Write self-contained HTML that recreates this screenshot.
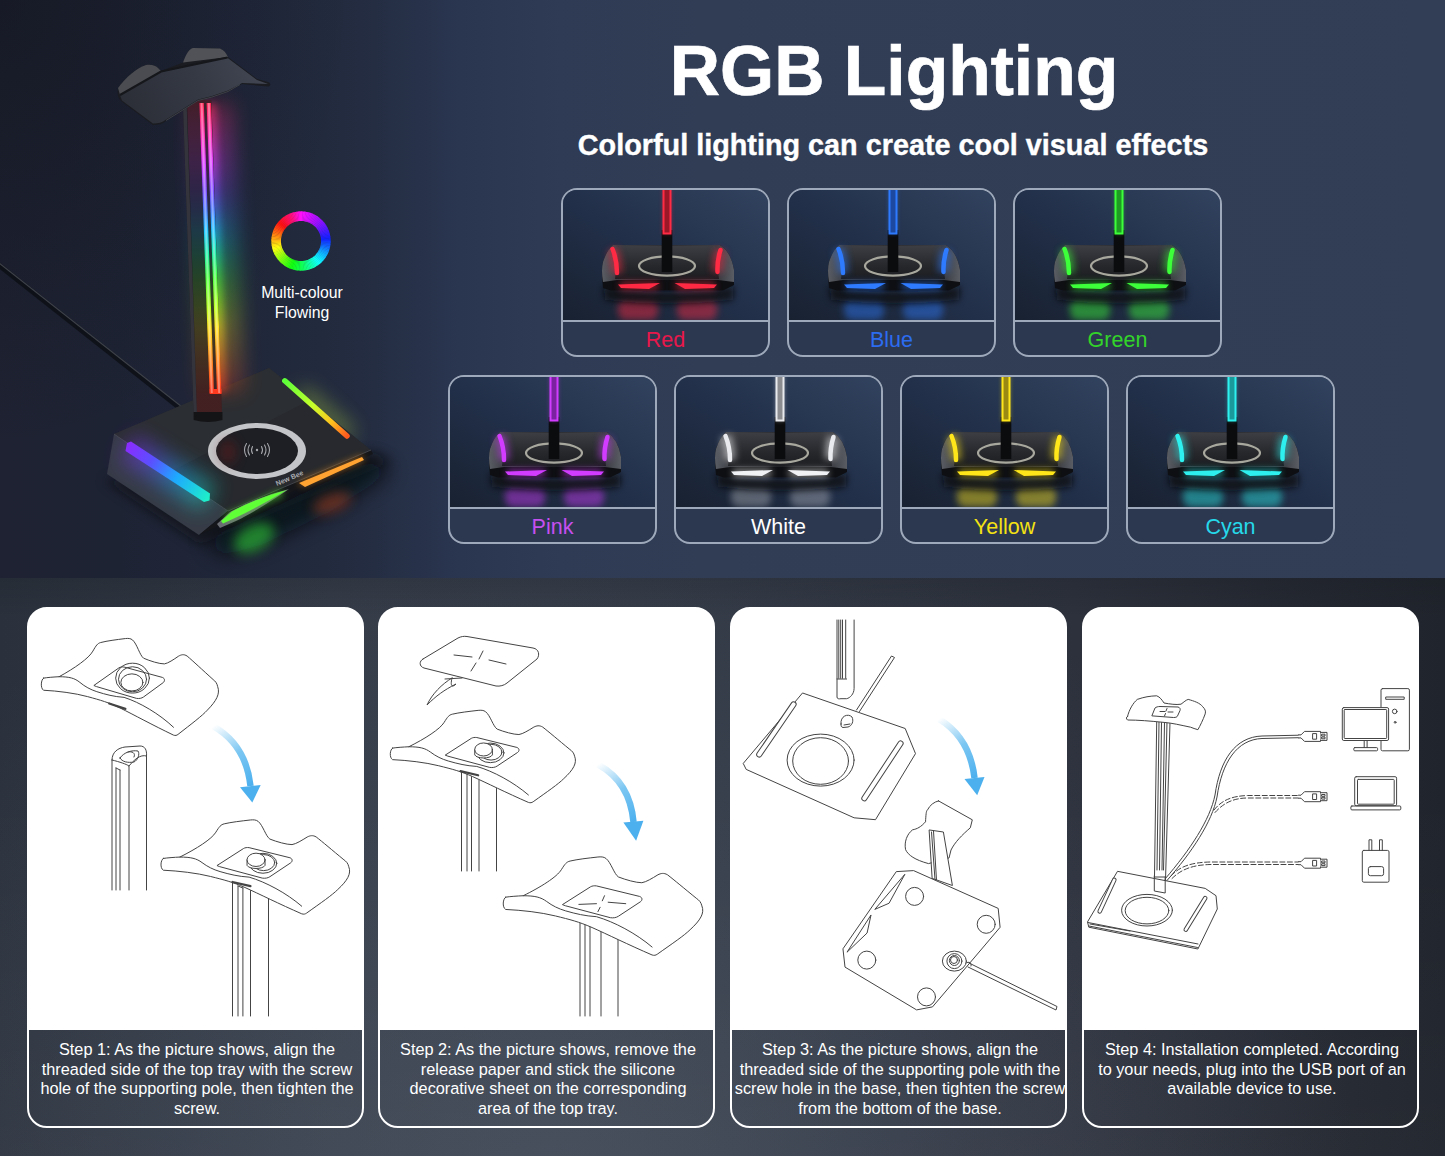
<!DOCTYPE html>
<html><head><meta charset="utf-8"><style>
*{margin:0;padding:0;box-sizing:border-box}
html,body{width:1445px;height:1156px;overflow:hidden;background:#2a303b}
body{position:relative;font-family:"Liberation Sans",sans-serif}
.abs{position:absolute}
#top{left:0;top:0;width:1445px;height:578px;overflow:hidden;
background:radial-gradient(ellipse 350px 450px at 0 0,rgba(12,14,20,0.4),rgba(12,14,20,0) 100%),linear-gradient(90deg,#1e2232 0px,#1e2334 120px,#20273a 250px,#232c40 360px,#2a3550 460px,#2f3b54 560px,#303d55 700px,#313e55 100%)}
#bot{left:0;top:578px;width:1445px;height:578px;overflow:hidden;
background:linear-gradient(180deg,rgba(0,0,0,0.1) 0px,rgba(0,0,0,0) 40px,rgba(255,255,255,0) 200px,rgba(255,255,255,0.025) 100%),radial-gradient(ellipse 800px 700px at 560px 610px,rgba(110,120,140,0.28),rgba(110,120,140,0) 100%),linear-gradient(90deg,#2a313c 0px,#333a46 330px,#343b47 550px,#323945 723px,#2c313c 1075px,#20242c 1445px)}
.title{left:0;width:1445px;text-align:center;color:#fff;font-weight:bold;white-space:nowrap}
.ccard{position:absolute;width:209px;height:169px;border:2px solid #9ea9bb;border-radius:16px;overflow:hidden;background:#2c3850}
.ccard svg{position:absolute;left:0;top:0}
.ccard .lab{position:absolute;left:0;width:100%;text-align:center;font-size:21.5px;top:130px;height:35px;line-height:37px;border-top:2px solid #9ea9bb}
.bcard{position:absolute;top:28.5px;width:337px;height:521px;border:2.5px solid #fff;border-radius:20px;overflow:hidden;background:linear-gradient(180deg,#fff 0px,#fff 422.5px,rgba(255,255,255,0) 422.5px) border-box}
.bcard .cap{position:absolute;left:-1px;top:420px;width:338px;height:96px;color:#fff;font-size:16.3px;line-height:19.5px;text-align:center;padding-top:11.5px}
.bcard svg{position:absolute;left:0;top:0}
</style></head><body>
<svg width="0" height="0" style="position:absolute">
<defs>
<filter id="b1" filterUnits="userSpaceOnUse" x="-300" y="-300" width="2200" height="2200"><feGaussianBlur stdDeviation="1"/></filter>
<filter id="b2" filterUnits="userSpaceOnUse" x="-300" y="-300" width="2200" height="2200"><feGaussianBlur stdDeviation="2"/></filter>
<filter id="b3" filterUnits="userSpaceOnUse" x="-300" y="-300" width="2200" height="2200"><feGaussianBlur stdDeviation="3.5"/></filter>
<filter id="b6" filterUnits="userSpaceOnUse" x="-300" y="-300" width="2200" height="2200"><feGaussianBlur stdDeviation="6"/></filter>
<filter id="b10" filterUnits="userSpaceOnUse" x="-300" y="-300" width="2200" height="2200"><feGaussianBlur stdDeviation="10"/></filter>
<filter id="b16" filterUnits="userSpaceOnUse" x="-300" y="-300" width="2200" height="2200"><feGaussianBlur stdDeviation="16"/></filter>
<linearGradient id="cardbg" x1="0" y1="1" x2="1" y2="0">
<stop offset="0" stop-color="#182130"/><stop offset="0.5" stop-color="#22304a"/><stop offset="1" stop-color="#32435f"/></linearGradient>
<linearGradient id="basetop" x1="0" y1="0" x2="0" y2="1">
<stop offset="0" stop-color="#3c3e44"/><stop offset="0.6" stop-color="#26282c"/><stop offset="1" stop-color="#1c1d21"/></linearGradient>
<linearGradient id="basewing" x1="0" y1="0" x2="1" y2="0">
<stop offset="0" stop-color="#5a5d64"/><stop offset="0.12" stop-color="#3a3c42"/><stop offset="0.5" stop-color="#1e1f23"/><stop offset="0.88" stop-color="#3a3c42"/><stop offset="1" stop-color="#5a5d64"/></linearGradient>
<linearGradient id="rainbowV" x1="0" y1="103" x2="0" y2="395" gradientUnits="userSpaceOnUse">
<stop offset="0" stop-color="#ff2a55"/><stop offset="0.1" stop-color="#ff35b0"/><stop offset="0.2" stop-color="#e040ff"/><stop offset="0.3" stop-color="#8050ff"/><stop offset="0.37" stop-color="#4a80ff"/><stop offset="0.44" stop-color="#20c8ff"/><stop offset="0.52" stop-color="#20f0a0"/><stop offset="0.6" stop-color="#50ff40"/><stop offset="0.7" stop-color="#b8ff20"/><stop offset="0.77" stop-color="#ffe020"/><stop offset="0.87" stop-color="#ff9020"/><stop offset="1" stop-color="#ff3020"/></linearGradient>
<linearGradient id="stripL" x1="127" y1="446" x2="209" y2="498" gradientUnits="userSpaceOnUse">
<stop offset="0" stop-color="#8a2cff"/><stop offset="0.3" stop-color="#5a50ff"/><stop offset="0.6" stop-color="#1ea8ff"/><stop offset="1" stop-color="#1ef0c8"/></linearGradient>
<linearGradient id="stripR" x1="285" y1="381" x2="347" y2="436" gradientUnits="userSpaceOnUse">
<stop offset="0" stop-color="#5cff3a"/><stop offset="0.45" stop-color="#c8ff2a"/><stop offset="0.75" stop-color="#ffc21e"/><stop offset="1" stop-color="#ff5a1e"/></linearGradient>
</defs></svg>

<div id="top" class="abs">
<div class="abs title" style="top:31px;left:894px;width:0;font-size:69.6px;line-height:80px"><span style="position:absolute;transform:translateX(-50%);-webkit-text-stroke:0.7px #fff">RGB Lighting</span></div>
<div class="abs title" style="top:128px;left:893px;width:0;font-size:28.8px;line-height:34px"><span style="position:absolute;transform:translateX(-50%);-webkit-text-stroke:0.4px #fff">Colorful lighting can create cool visual effects</span></div>
<svg class="abs" style="left:0;top:0" width="460" height="578" viewBox="0 0 460 578">
<!-- cable -->
<path d="M-5 262 L190 416" stroke="#0d0f15" stroke-width="5" fill="none" opacity="0.85"/>
<path d="M-5 259.8 L190 413.3" stroke="#4d5159" stroke-width="1.1" fill="none" opacity="0.75"/>
<!-- floor shadow under base -->
<path d="M104 480 L200 545 L392 462 L374 452 Z" fill="#07080b" opacity="0.55" filter="url(#b6)"/>
<path d="M205 540 L372 460 L392 472 L330 512 L262 545 L222 556 Z" fill="#06070a" opacity="0.7" filter="url(#b10)"/>
<!-- reflection glows under base -->
<ellipse cx="0" cy="0" rx="22" ry="13" fill="#30d83a" opacity="0.55" filter="url(#b6)" transform="translate(254 538) rotate(-28)"/>
<ellipse cx="0" cy="0" rx="20" ry="9" fill="#9a3a22" opacity="0.6" filter="url(#b6)" transform="translate(332 503) rotate(-20)"/>
<!-- strip glows (behind base edges) -->
<path d="M300 392 L350 436" stroke="#d8ff40" stroke-width="16" opacity="0.35" filter="url(#b10)"/>
<!-- base faces -->
<path d="M269 368 L114 434 L228 511 L371 450 Z" fill="#27292e"/>
<path d="M269 368 L114 434 L170 472 L310 400 Z" fill="#2e3035" opacity="0.7"/>
<path d="M114 434 L107 474 L199 535 L228 511 Z" fill="#363b46"/>
<path d="M228 511 L199 535 L373 454 L371 450 Z" fill="#15161a"/>
<path d="M114 434 L228 511 L371 450" stroke="#4a4d55" stroke-width="1" fill="none" opacity="0.8"/>
<!-- left strip glow -->
<path d="M128 447 L209 498" stroke="url(#stripL)" stroke-width="30" opacity="0.45" filter="url(#b10)"/>
<!-- strips -->
<path d="M127 443 L131 441.5 L210 493.5 L209.5 500.5 L204 502 L125.5 451 Z" fill="url(#stripL)"/>
<path d="M284.8 380.8 L347 436" stroke="url(#stripR)" stroke-width="5.5" stroke-linecap="round"/>
<path d="M217 524 L230 512 C250 501 270 494 289 489 C272 501 252 513 236 521 L220 528 Z" fill="#6a6d74"/>
<path d="M221 521 L232 511.5 C250 501.5 270 494.5 287 490 C270 500 252 510 236 517.5 L223 523.5 Z" fill="#62ff3c"/>
<path d="M226 518 L282 493" stroke="#5cff2c" stroke-width="7" opacity="0.5" filter="url(#b3)"/>
<path d="M299 483 L362 457 L364 460 L305 487 Z" fill="#ffa63a"/>
<path d="M300 484 L363 458" stroke="#ff9a1e" stroke-width="6" opacity="0.5" filter="url(#b3)"/>
<!-- ring -->
<ellipse cx="257" cy="451" rx="49" ry="28" fill="#c4c5c8"/>
<ellipse cx="257" cy="451" rx="41" ry="23" fill="#1e1f24"/>
<ellipse cx="228" cy="452" rx="8" ry="12" fill="#6a1a1a" opacity="0.5" filter="url(#b6)"/>
<g fill="none" stroke="#a4a6ac" stroke-width="1.1" stroke-linecap="round">
<path d="M252.5 446.5 Q250.5 450 252.5 453.5"/><path d="M249.5 445 Q246.5 450 249.5 455"/><path d="M246.5 443.5 Q242.5 450 246.5 456.5"/>
<path d="M261.5 446.5 Q263.5 450 261.5 453.5"/><path d="M264.5 445 Q267.5 450 264.5 455"/><path d="M267.5 443.5 Q271.5 450 267.5 456.5"/>
</g><circle cx="257" cy="450" r="1.2" fill="#a4a6ac"/>
<text x="0" y="0" font-size="7" fill="#a9abb0" font-weight="bold" transform="translate(277 486) rotate(-23)" font-family="Liberation Sans">New Bee</text>
<!-- pole glow -->
<path d="M212 104 L223 392" stroke="url(#rainbowV)" stroke-width="40" opacity="0.3" filter="url(#b10)"/>
<path d="M207 104 L217.5 392" stroke="url(#rainbowV)" stroke-width="18" opacity="0.5" filter="url(#b3)"/>
<!-- pole -->
<path d="M182.8 100 L211.4 100 L222 414 L193.6 414 Z" fill="#1c1c21"/>
<path d="M182.8 100 L186.5 100 L196.9 414 L193.6 414 Z" fill="#3a3b43" opacity="0.8"/>
<path d="M187 100 L211.4 100 L222 414 L197 414 Z" fill="url(#rainbowV)" opacity="0.17"/>
<path d="M193.6 412 L222.5 412 L222.5 420 Q208 424 193.6 420 Z" fill="#141417"/>
<!-- pole strips -->
<path d="M199.4 103 L203.8 103 L214 393 L209.6 393 Z" fill="url(#rainbowV)"/>
<path d="M206.6 103 L211 103 L221.4 393 L217 393 Z" fill="url(#rainbowV)"/>
<path d="M209.6 389 L221.4 389 L221.6 394 L209.6 394 Z" fill="#ff3a1e"/>
<path d="M200.6 103 L202.6 103 L212.8 393 L210.8 393 Z" fill="#ffffff" opacity="0.35"/>
<path d="M207.8 103 L209.8 103 L220.2 393 L218.2 393 Z" fill="#ffffff" opacity="0.35"/>
<!-- tray -->
<path d="M118 88 C125 78 138 67 146 65 C152 64 156 66 158 68 L161 71 L183 62.5 C186 54 189 49 193 48 L220 48.5 C224 50 226 53 228 57 L257 79 L268 82 C271 83 271 86 268 86.5 L242 84 L228 92 L212 97.5 L198 101 L166 121 C162 124 158 125 153 125 L121 101 C118 98 117 94 118 88 Z" fill="#1b1c21"/>
<linearGradient id="trayface" x1="120" y1="120" x2="250" y2="60" gradientUnits="userSpaceOnUse"><stop offset="0" stop-color="#2a2d35"/><stop offset="0.6" stop-color="#353944"/><stop offset="1" stop-color="#404551"/></linearGradient>
<path d="M120 95 L161 72 L227 57.5 L257 80 L268 84 L242 83 L228 90.5 L212 96 L198 99.5 L166 119.5 C162 122.5 158 123.5 153 123.5 L122 100.5 Z" fill="url(#trayface)"/>
<path d="M118 88 C125 78 138 67 146 65 C152 64 156 66 158 68 L161 71 L120 95 Z" fill="#4a4c52"/>
<path d="M183 62.5 C186 54 189 49 193 48 L220 48.5 C224 50 226 53 228 57 Z" fill="#505258"/>
<path d="M120 95 L161 71.5 L227.5 57.5" stroke="#15171b" stroke-width="2.2" fill="none"/>
<path d="M240 84.5 L228 91.5 L212 97 L198 100.5 L166 120.5" stroke="#55585f" stroke-width="0.9" fill="none" opacity="0.7"/>
<!-- multicolour ring -->
<g fill="none" stroke-width="9.6"><path d="M301.00 216.15 A24.85 24.85 0 0 1 302.65 216.20" stroke="#fb10ff"/><path d="M302.30 216.18 A24.85 24.85 0 0 1 303.94 216.32" stroke="#f410ff"/><path d="M303.60 216.29 A24.85 24.85 0 0 1 305.23 216.51" stroke="#ed10ff"/><path d="M304.89 216.46 A24.85 24.85 0 0 1 306.51 216.77" stroke="#e610ff"/><path d="M306.17 216.69 A24.85 24.85 0 0 1 307.77 217.09" stroke="#df10ff"/><path d="M307.43 217.00 A24.85 24.85 0 0 1 309.01 217.48" stroke="#d810ff"/><path d="M308.68 217.37 A24.85 24.85 0 0 1 310.23 217.93" stroke="#d110ff"/><path d="M309.91 217.80 A24.85 24.85 0 0 1 311.42 218.44" stroke="#ca10ff"/><path d="M311.11 218.30 A24.85 24.85 0 0 1 312.59 219.02" stroke="#c210ff"/><path d="M312.28 218.86 A24.85 24.85 0 0 1 313.72 219.65" stroke="#bb10ff"/><path d="M313.43 219.48 A24.85 24.85 0 0 1 314.82 220.35" stroke="#b410ff"/><path d="M314.53 220.16 A24.85 24.85 0 0 1 315.89 221.10" stroke="#ad10ff"/><path d="M315.61 220.90 A24.85 24.85 0 0 1 316.91 221.91" stroke="#a610ff"/><path d="M316.64 221.69 A24.85 24.85 0 0 1 317.88 222.77" stroke="#9e10ff"/><path d="M317.63 222.53 A24.85 24.85 0 0 1 318.82 223.68" stroke="#9511ff"/><path d="M318.57 223.43 A24.85 24.85 0 0 1 319.70 224.63" stroke="#8b12ff"/><path d="M319.47 224.37 A24.85 24.85 0 0 1 320.53 225.63" stroke="#8213ff"/><path d="M320.31 225.36 A24.85 24.85 0 0 1 321.31 226.68" stroke="#7814ff"/><path d="M321.10 226.39 A24.85 24.85 0 0 1 322.03 227.76" stroke="#6e16ff"/><path d="M321.84 227.47 A24.85 24.85 0 0 1 322.69 228.88" stroke="#6517ff"/><path d="M322.52 228.57 A24.85 24.85 0 0 1 323.30 230.03" stroke="#5b18ff"/><path d="M323.14 229.72 A24.85 24.85 0 0 1 323.84 231.21" stroke="#5219ff"/><path d="M323.70 230.89 A24.85 24.85 0 0 1 324.32 232.42" stroke="#481aff"/><path d="M324.20 232.09 A24.85 24.85 0 0 1 324.74 233.65" stroke="#3e1bff"/><path d="M324.63 233.32 A24.85 24.85 0 0 1 325.09 234.90" stroke="#351cff"/><path d="M325.00 234.57 A24.85 24.85 0 0 1 325.38 236.17" stroke="#2b1dff"/><path d="M325.31 235.83 A24.85 24.85 0 0 1 325.60 237.46" stroke="#221eff"/><path d="M325.54 237.11 A24.85 24.85 0 0 1 325.75 238.75" stroke="#181fff"/><path d="M325.71 238.40 A24.85 24.85 0 0 1 325.83 240.05" stroke="#1022ff"/><path d="M325.82 239.70 A24.85 24.85 0 0 1 325.85 241.35" stroke="#102fff"/><path d="M325.85 241.00 A24.85 24.85 0 0 1 325.80 242.65" stroke="#103cff"/><path d="M325.82 242.30 A24.85 24.85 0 0 1 325.68 243.94" stroke="#1049ff"/><path d="M325.71 243.60 A24.85 24.85 0 0 1 325.49 245.23" stroke="#1055ff"/><path d="M325.54 244.89 A24.85 24.85 0 0 1 325.23 246.51" stroke="#1062ff"/><path d="M325.31 246.17 A24.85 24.85 0 0 1 324.91 247.77" stroke="#106fff"/><path d="M325.00 247.43 A24.85 24.85 0 0 1 324.52 249.01" stroke="#107cff"/><path d="M324.63 248.68 A24.85 24.85 0 0 1 324.07 250.23" stroke="#1089ff"/><path d="M324.20 249.91 A24.85 24.85 0 0 1 323.56 251.42" stroke="#1095ff"/><path d="M323.70 251.11 A24.85 24.85 0 0 1 322.98 252.59" stroke="#10a2ff"/><path d="M323.14 252.28 A24.85 24.85 0 0 1 322.35 253.72" stroke="#10adff"/><path d="M322.52 253.43 A24.85 24.85 0 0 1 321.65 254.82" stroke="#10b9ff"/><path d="M321.84 254.53 A24.85 24.85 0 0 1 320.90 255.89" stroke="#10c4ff"/><path d="M321.10 255.61 A24.85 24.85 0 0 1 320.09 256.91" stroke="#10d0ff"/><path d="M320.31 256.64 A24.85 24.85 0 0 1 319.23 257.88" stroke="#10dbff"/><path d="M319.47 257.63 A24.85 24.85 0 0 1 318.32 258.82" stroke="#10e6ff"/><path d="M318.57 258.57 A24.85 24.85 0 0 1 317.37 259.70" stroke="#10f2ff"/><path d="M317.63 259.47 A24.85 24.85 0 0 1 316.37 260.53" stroke="#10fdff"/><path d="M316.64 260.31 A24.85 24.85 0 0 1 315.32 261.31" stroke="#10fff4"/><path d="M315.61 261.10 A24.85 24.85 0 0 1 314.24 262.03" stroke="#10ffe6"/><path d="M314.53 261.84 A24.85 24.85 0 0 1 313.12 262.69" stroke="#10ffd8"/><path d="M313.43 262.52 A24.85 24.85 0 0 1 311.97 263.30" stroke="#10ffcb"/><path d="M312.28 263.14 A24.85 24.85 0 0 1 310.79 263.84" stroke="#10ffbd"/><path d="M311.11 263.70 A24.85 24.85 0 0 1 309.58 264.32" stroke="#10ffb0"/><path d="M309.91 264.20 A24.85 24.85 0 0 1 308.35 264.74" stroke="#10ffa2"/><path d="M308.68 264.63 A24.85 24.85 0 0 1 307.10 265.09" stroke="#10ff94"/><path d="M307.43 265.00 A24.85 24.85 0 0 1 305.83 265.38" stroke="#10ff87"/><path d="M306.17 265.31 A24.85 24.85 0 0 1 304.54 265.60" stroke="#10ff79"/><path d="M304.89 265.54 A24.85 24.85 0 0 1 303.25 265.75" stroke="#10ff6b"/><path d="M303.60 265.71 A24.85 24.85 0 0 1 301.95 265.83" stroke="#10ff5e"/><path d="M302.30 265.82 A24.85 24.85 0 0 1 300.65 265.85" stroke="#10ff55"/><path d="M301.00 265.85 A24.85 24.85 0 0 1 299.35 265.80" stroke="#10ff4b"/><path d="M299.70 265.82 A24.85 24.85 0 0 1 298.06 265.68" stroke="#10ff42"/><path d="M298.40 265.71 A24.85 24.85 0 0 1 296.77 265.49" stroke="#10ff38"/><path d="M297.11 265.54 A24.85 24.85 0 0 1 295.49 265.23" stroke="#10ff2e"/><path d="M295.83 265.31 A24.85 24.85 0 0 1 294.23 264.91" stroke="#10ff25"/><path d="M294.57 265.00 A24.85 24.85 0 0 1 292.99 264.52" stroke="#10ff1b"/><path d="M293.32 264.63 A24.85 24.85 0 0 1 291.77 264.07" stroke="#10ff12"/><path d="M292.09 264.20 A24.85 24.85 0 0 1 290.58 263.56" stroke="#1aff10"/><path d="M290.89 263.70 A24.85 24.85 0 0 1 289.41 262.98" stroke="#27ff10"/><path d="M289.72 263.14 A24.85 24.85 0 0 1 288.28 262.35" stroke="#33ff10"/><path d="M288.57 262.52 A24.85 24.85 0 0 1 287.18 261.65" stroke="#3fff10"/><path d="M287.47 261.84 A24.85 24.85 0 0 1 286.11 260.90" stroke="#4cff10"/><path d="M286.39 261.10 A24.85 24.85 0 0 1 285.09 260.09" stroke="#58ff10"/><path d="M285.36 260.31 A24.85 24.85 0 0 1 284.12 259.23" stroke="#64ff10"/><path d="M284.37 259.47 A24.85 24.85 0 0 1 283.18 258.32" stroke="#71ff10"/><path d="M283.43 258.57 A24.85 24.85 0 0 1 282.30 257.37" stroke="#7dff10"/><path d="M282.53 257.63 A24.85 24.85 0 0 1 281.47 256.37" stroke="#89ff10"/><path d="M281.69 256.64 A24.85 24.85 0 0 1 280.69 255.32" stroke="#96ff10"/><path d="M280.90 255.61 A24.85 24.85 0 0 1 279.97 254.24" stroke="#a2ff10"/><path d="M280.16 254.53 A24.85 24.85 0 0 1 279.31 253.12" stroke="#b1ff10"/><path d="M279.48 253.43 A24.85 24.85 0 0 1 278.70 251.97" stroke="#bfff10"/><path d="M278.86 252.28 A24.85 24.85 0 0 1 278.16 250.79" stroke="#cdff10"/><path d="M278.30 251.11 A24.85 24.85 0 0 1 277.68 249.58" stroke="#dbff10"/><path d="M277.80 249.91 A24.85 24.85 0 0 1 277.26 248.35" stroke="#eaff10"/><path d="M277.37 248.68 A24.85 24.85 0 0 1 276.91 247.10" stroke="#f8ff10"/><path d="M277.00 247.43 A24.85 24.85 0 0 1 276.62 245.83" stroke="#fff810"/><path d="M276.69 246.17 A24.85 24.85 0 0 1 276.40 244.54" stroke="#ffeb10"/><path d="M276.46 244.89 A24.85 24.85 0 0 1 276.25 243.25" stroke="#ffde10"/><path d="M276.29 243.60 A24.85 24.85 0 0 1 276.17 241.95" stroke="#ffd010"/><path d="M276.18 242.30 A24.85 24.85 0 0 1 276.15 240.65" stroke="#ffc310"/><path d="M276.15 241.00 A24.85 24.85 0 0 1 276.20 239.35" stroke="#ffb610"/><path d="M276.18 239.70 A24.85 24.85 0 0 1 276.32 238.06" stroke="#ffa810"/><path d="M276.29 238.40 A24.85 24.85 0 0 1 276.51 236.77" stroke="#ff9b10"/><path d="M276.46 237.11 A24.85 24.85 0 0 1 276.77 235.49" stroke="#ff8e10"/><path d="M276.69 235.83 A24.85 24.85 0 0 1 277.09 234.23" stroke="#ff8110"/><path d="M277.00 234.57 A24.85 24.85 0 0 1 277.48 232.99" stroke="#ff7410"/><path d="M277.37 233.32 A24.85 24.85 0 0 1 277.93 231.77" stroke="#ff6710"/><path d="M277.80 232.09 A24.85 24.85 0 0 1 278.44 230.58" stroke="#ff5b10"/><path d="M278.30 230.89 A24.85 24.85 0 0 1 279.02 229.41" stroke="#ff4e10"/><path d="M278.86 229.72 A24.85 24.85 0 0 1 279.65 228.28" stroke="#ff4110"/><path d="M279.48 228.57 A24.85 24.85 0 0 1 280.35 227.18" stroke="#ff3410"/><path d="M280.16 227.47 A24.85 24.85 0 0 1 281.10 226.11" stroke="#ff2710"/><path d="M280.90 226.39 A24.85 24.85 0 0 1 281.91 225.09" stroke="#ff1b10"/><path d="M281.69 225.36 A24.85 24.85 0 0 1 282.77 224.12" stroke="#ff1012"/><path d="M282.53 224.37 A24.85 24.85 0 0 1 283.68 223.18" stroke="#ff101d"/><path d="M283.43 223.43 A24.85 24.85 0 0 1 284.63 222.30" stroke="#ff1028"/><path d="M284.37 222.53 A24.85 24.85 0 0 1 285.63 221.47" stroke="#ff1033"/><path d="M285.36 221.69 A24.85 24.85 0 0 1 286.68 220.69" stroke="#ff103f"/><path d="M286.39 220.90 A24.85 24.85 0 0 1 287.76 219.97" stroke="#ff104a"/><path d="M287.47 220.16 A24.85 24.85 0 0 1 288.88 219.31" stroke="#ff1055"/><path d="M288.57 219.48 A24.85 24.85 0 0 1 290.03 218.70" stroke="#ff1060"/><path d="M289.72 218.86 A24.85 24.85 0 0 1 291.21 218.16" stroke="#ff106b"/><path d="M290.89 218.30 A24.85 24.85 0 0 1 292.42 217.68" stroke="#ff1077"/><path d="M292.09 217.80 A24.85 24.85 0 0 1 293.65 217.26" stroke="#ff1083"/><path d="M293.32 217.37 A24.85 24.85 0 0 1 294.90 216.91" stroke="#ff1096"/><path d="M294.57 217.00 A24.85 24.85 0 0 1 296.17 216.62" stroke="#ff10a9"/><path d="M295.83 216.69 A24.85 24.85 0 0 1 297.46 216.40" stroke="#ff10bc"/><path d="M297.11 216.46 A24.85 24.85 0 0 1 298.75 216.25" stroke="#ff10cf"/><path d="M298.40 216.29 A24.85 24.85 0 0 1 300.05 216.17" stroke="#ff10e2"/><path d="M299.70 216.18 A24.85 24.85 0 0 1 301.35 216.15" stroke="#ff10f5"/></g>
<text x="302" y="297.5" font-size="15.8" fill="#ffffff" text-anchor="middle" font-family="Liberation Sans">Multi-colour</text>
<text x="302" y="317.5" font-size="15.8" fill="#ffffff" text-anchor="middle" font-family="Liberation Sans">Flowing</text>
</svg>
<div class="ccard" style="left:561px;top:188px">
<svg width="205" height="131" viewBox="0 0 205 131">
<rect width="205" height="131" fill="url(#cardbg)"/>
<rect x="55" y="109" width="40" height="21" rx="8" fill="#ff2a44" opacity="0.45" filter="url(#b3)"/>
<rect x="114" y="109" width="40" height="21" rx="8" fill="#ff2a44" opacity="0.45" filter="url(#b3)"/>
<path d="M40 96 Q104 108 171 96 L170 110 Q104 118 42 110 Z" fill="#07080b" opacity="0.75" filter="url(#b3)"/>
<path d="M50 55 L157 55 Q168 62 171 80 L171 95 L160 100.5 L48 100.5 L40 98 Q38 80 40 72 Q44 60 50 55 Z" fill="#0e0f12"/>
<path d="M50 55 L157 55 Q168 62 171 80 L171 92 L155 90 L54 90 L40 92 Q38 80 40 72 Q44 60 50 55 Z" fill="url(#basewing)"/>
<path d="M56 55.5 L152 55.5 L156 89 L52 89 Z" fill="url(#basetop)"/>
<ellipse cx="104" cy="76" rx="28" ry="9.6" fill="none" stroke="#a9a89e" stroke-width="2.2"/>
<rect x="98.7" y="40" width="10.6" height="42" fill="#0b0c0e"/>
<path d="M49.5 59 Q54 70 54 83" stroke="#ff2a44" stroke-width="11" fill="none" opacity="0.5" filter="url(#b3)"/>
<path d="M157.5 60 Q154 71 154.5 82" stroke="#ff2a44" stroke-width="11" fill="none" opacity="0.5" filter="url(#b3)"/>
<path d="M49.5 59 Q54 70 54 83" stroke="#ff2a44" stroke-width="4.5" fill="none" stroke-linecap="round"/>
<path d="M157.5 60 Q154 71 154.5 82" stroke="#ff2a44" stroke-width="4.5" fill="none" stroke-linecap="round"/>
<path d="M55 94.5 L97 93 L86 99 L58 98 Z" fill="#ff2a44"/>
<path d="M111.5 93 L154 94.5 L151 98 L122 99 Z" fill="#ff2a44"/>
<path d="M57 96 L95 96 M113 96 L152 96" stroke="#ff2a44" stroke-width="8" opacity="0.5" filter="url(#b3)"/>
<rect x="99.5" y="-2" width="9" height="46" fill="#ff2a44" opacity="0.35" filter="url(#b2)"/>
<rect x="100.5" y="-2" width="7" height="45.5" fill="#9a1828" stroke="#ff2a44" stroke-width="2"/>
</svg>
<div class="lab" style="color:#e8174b">Red</div>
</div>
<div class="ccard" style="left:787px;top:188px">
<svg width="205" height="131" viewBox="0 0 205 131">
<rect width="205" height="131" fill="url(#cardbg)"/>
<rect x="55" y="109" width="40" height="21" rx="8" fill="#2f7bff" opacity="0.45" filter="url(#b3)"/>
<rect x="114" y="109" width="40" height="21" rx="8" fill="#2f7bff" opacity="0.45" filter="url(#b3)"/>
<path d="M40 96 Q104 108 171 96 L170 110 Q104 118 42 110 Z" fill="#07080b" opacity="0.75" filter="url(#b3)"/>
<path d="M50 55 L157 55 Q168 62 171 80 L171 95 L160 100.5 L48 100.5 L40 98 Q38 80 40 72 Q44 60 50 55 Z" fill="#0e0f12"/>
<path d="M50 55 L157 55 Q168 62 171 80 L171 92 L155 90 L54 90 L40 92 Q38 80 40 72 Q44 60 50 55 Z" fill="url(#basewing)"/>
<path d="M56 55.5 L152 55.5 L156 89 L52 89 Z" fill="url(#basetop)"/>
<ellipse cx="104" cy="76" rx="28" ry="9.6" fill="none" stroke="#a9a89e" stroke-width="2.2"/>
<rect x="98.7" y="40" width="10.6" height="42" fill="#0b0c0e"/>
<path d="M49.5 59 Q54 70 54 83" stroke="#2f7bff" stroke-width="11" fill="none" opacity="0.5" filter="url(#b3)"/>
<path d="M157.5 60 Q154 71 154.5 82" stroke="#2f7bff" stroke-width="11" fill="none" opacity="0.5" filter="url(#b3)"/>
<path d="M49.5 59 Q54 70 54 83" stroke="#2f7bff" stroke-width="4.5" fill="none" stroke-linecap="round"/>
<path d="M157.5 60 Q154 71 154.5 82" stroke="#2f7bff" stroke-width="4.5" fill="none" stroke-linecap="round"/>
<path d="M55 94.5 L97 93 L86 99 L58 98 Z" fill="#2f7bff"/>
<path d="M111.5 93 L154 94.5 L151 98 L122 99 Z" fill="#2f7bff"/>
<path d="M57 96 L95 96 M113 96 L152 96" stroke="#2f7bff" stroke-width="8" opacity="0.5" filter="url(#b3)"/>
<rect x="99.5" y="-2" width="9" height="46" fill="#2f7bff" opacity="0.35" filter="url(#b2)"/>
<rect x="100.5" y="-2" width="7" height="45.5" fill="#1d4aa0" stroke="#2f7bff" stroke-width="2"/>
</svg>
<div class="lab" style="color:#2c6cf0">Blue</div>
</div>
<div class="ccard" style="left:1013px;top:188px">
<svg width="205" height="131" viewBox="0 0 205 131">
<rect width="205" height="131" fill="url(#cardbg)"/>
<rect x="55" y="109" width="40" height="21" rx="8" fill="#3dff3a" opacity="0.45" filter="url(#b3)"/>
<rect x="114" y="109" width="40" height="21" rx="8" fill="#3dff3a" opacity="0.45" filter="url(#b3)"/>
<path d="M40 96 Q104 108 171 96 L170 110 Q104 118 42 110 Z" fill="#07080b" opacity="0.75" filter="url(#b3)"/>
<path d="M50 55 L157 55 Q168 62 171 80 L171 95 L160 100.5 L48 100.5 L40 98 Q38 80 40 72 Q44 60 50 55 Z" fill="#0e0f12"/>
<path d="M50 55 L157 55 Q168 62 171 80 L171 92 L155 90 L54 90 L40 92 Q38 80 40 72 Q44 60 50 55 Z" fill="url(#basewing)"/>
<path d="M56 55.5 L152 55.5 L156 89 L52 89 Z" fill="url(#basetop)"/>
<ellipse cx="104" cy="76" rx="28" ry="9.6" fill="none" stroke="#a9a89e" stroke-width="2.2"/>
<rect x="98.7" y="40" width="10.6" height="42" fill="#0b0c0e"/>
<path d="M49.5 59 Q54 70 54 83" stroke="#3dff3a" stroke-width="11" fill="none" opacity="0.5" filter="url(#b3)"/>
<path d="M157.5 60 Q154 71 154.5 82" stroke="#3dff3a" stroke-width="11" fill="none" opacity="0.5" filter="url(#b3)"/>
<path d="M49.5 59 Q54 70 54 83" stroke="#3dff3a" stroke-width="4.5" fill="none" stroke-linecap="round"/>
<path d="M157.5 60 Q154 71 154.5 82" stroke="#3dff3a" stroke-width="4.5" fill="none" stroke-linecap="round"/>
<path d="M55 94.5 L97 93 L86 99 L58 98 Z" fill="#3dff3a"/>
<path d="M111.5 93 L154 94.5 L151 98 L122 99 Z" fill="#3dff3a"/>
<path d="M57 96 L95 96 M113 96 L152 96" stroke="#3dff3a" stroke-width="8" opacity="0.5" filter="url(#b3)"/>
<rect x="99.5" y="-2" width="9" height="46" fill="#3dff3a" opacity="0.35" filter="url(#b2)"/>
<rect x="100.5" y="-2" width="7" height="45.5" fill="#1f9a22" stroke="#3dff3a" stroke-width="2"/>
</svg>
<div class="lab" style="color:#33d42a">Green</div>
</div>
<div class="ccard" style="left:448px;top:375px">
<svg width="205" height="131" viewBox="0 0 205 131">
<rect width="205" height="131" fill="url(#cardbg)"/>
<rect x="55" y="109" width="40" height="21" rx="8" fill="#d13cff" opacity="0.45" filter="url(#b3)"/>
<rect x="114" y="109" width="40" height="21" rx="8" fill="#d13cff" opacity="0.45" filter="url(#b3)"/>
<path d="M40 96 Q104 108 171 96 L170 110 Q104 118 42 110 Z" fill="#07080b" opacity="0.75" filter="url(#b3)"/>
<path d="M50 55 L157 55 Q168 62 171 80 L171 95 L160 100.5 L48 100.5 L40 98 Q38 80 40 72 Q44 60 50 55 Z" fill="#0e0f12"/>
<path d="M50 55 L157 55 Q168 62 171 80 L171 92 L155 90 L54 90 L40 92 Q38 80 40 72 Q44 60 50 55 Z" fill="url(#basewing)"/>
<path d="M56 55.5 L152 55.5 L156 89 L52 89 Z" fill="url(#basetop)"/>
<ellipse cx="104" cy="76" rx="28" ry="9.6" fill="none" stroke="#a9a89e" stroke-width="2.2"/>
<rect x="98.7" y="40" width="10.6" height="42" fill="#0b0c0e"/>
<path d="M49.5 59 Q54 70 54 83" stroke="#d13cff" stroke-width="11" fill="none" opacity="0.5" filter="url(#b3)"/>
<path d="M157.5 60 Q154 71 154.5 82" stroke="#d13cff" stroke-width="11" fill="none" opacity="0.5" filter="url(#b3)"/>
<path d="M49.5 59 Q54 70 54 83" stroke="#d13cff" stroke-width="4.5" fill="none" stroke-linecap="round"/>
<path d="M157.5 60 Q154 71 154.5 82" stroke="#d13cff" stroke-width="4.5" fill="none" stroke-linecap="round"/>
<path d="M55 94.5 L97 93 L86 99 L58 98 Z" fill="#d13cff"/>
<path d="M111.5 93 L154 94.5 L151 98 L122 99 Z" fill="#d13cff"/>
<path d="M57 96 L95 96 M113 96 L152 96" stroke="#d13cff" stroke-width="8" opacity="0.5" filter="url(#b3)"/>
<rect x="99.5" y="-2" width="9" height="46" fill="#d13cff" opacity="0.35" filter="url(#b2)"/>
<rect x="100.5" y="-2" width="7" height="45.5" fill="#7a22a0" stroke="#d13cff" stroke-width="2"/>
</svg>
<div class="lab" style="color:#c64ff0">Pink</div>
</div>
<div class="ccard" style="left:674px;top:375px">
<svg width="205" height="131" viewBox="0 0 205 131">
<rect width="205" height="131" fill="url(#cardbg)"/>
<rect x="55" y="109" width="40" height="21" rx="8" fill="#ffffff" opacity="0.28" filter="url(#b3)"/>
<rect x="114" y="109" width="40" height="21" rx="8" fill="#ffffff" opacity="0.28" filter="url(#b3)"/>
<path d="M40 96 Q104 108 171 96 L170 110 Q104 118 42 110 Z" fill="#07080b" opacity="0.75" filter="url(#b3)"/>
<path d="M50 55 L157 55 Q168 62 171 80 L171 95 L160 100.5 L48 100.5 L40 98 Q38 80 40 72 Q44 60 50 55 Z" fill="#0e0f12"/>
<path d="M50 55 L157 55 Q168 62 171 80 L171 92 L155 90 L54 90 L40 92 Q38 80 40 72 Q44 60 50 55 Z" fill="url(#basewing)"/>
<path d="M56 55.5 L152 55.5 L156 89 L52 89 Z" fill="url(#basetop)"/>
<ellipse cx="104" cy="76" rx="28" ry="9.6" fill="none" stroke="#a9a89e" stroke-width="2.2"/>
<rect x="98.7" y="40" width="10.6" height="42" fill="#0b0c0e"/>
<path d="M49.5 59 Q54 70 54 83" stroke="#ffffff" stroke-width="11" fill="none" opacity="0.5" filter="url(#b3)"/>
<path d="M157.5 60 Q154 71 154.5 82" stroke="#ffffff" stroke-width="11" fill="none" opacity="0.5" filter="url(#b3)"/>
<path d="M49.5 59 Q54 70 54 83" stroke="#e8eaee" stroke-width="4.5" fill="none" stroke-linecap="round"/>
<path d="M157.5 60 Q154 71 154.5 82" stroke="#e8eaee" stroke-width="4.5" fill="none" stroke-linecap="round"/>
<path d="M55 94.5 L97 93 L86 99 L58 98 Z" fill="#e8eaee"/>
<path d="M111.5 93 L154 94.5 L151 98 L122 99 Z" fill="#e8eaee"/>
<path d="M57 96 L95 96 M113 96 L152 96" stroke="#ffffff" stroke-width="8" opacity="0.5" filter="url(#b3)"/>
<rect x="99.5" y="-2" width="9" height="46" fill="#ffffff" opacity="0.35" filter="url(#b2)"/>
<rect x="100.5" y="-2" width="7" height="45.5" fill="#8a8c90" stroke="#e8eaee" stroke-width="2"/>
</svg>
<div class="lab" style="color:#ffffff">White</div>
</div>
<div class="ccard" style="left:900px;top:375px">
<svg width="205" height="131" viewBox="0 0 205 131">
<rect width="205" height="131" fill="url(#cardbg)"/>
<rect x="55" y="109" width="40" height="21" rx="8" fill="#ffe61a" opacity="0.45" filter="url(#b3)"/>
<rect x="114" y="109" width="40" height="21" rx="8" fill="#ffe61a" opacity="0.45" filter="url(#b3)"/>
<path d="M40 96 Q104 108 171 96 L170 110 Q104 118 42 110 Z" fill="#07080b" opacity="0.75" filter="url(#b3)"/>
<path d="M50 55 L157 55 Q168 62 171 80 L171 95 L160 100.5 L48 100.5 L40 98 Q38 80 40 72 Q44 60 50 55 Z" fill="#0e0f12"/>
<path d="M50 55 L157 55 Q168 62 171 80 L171 92 L155 90 L54 90 L40 92 Q38 80 40 72 Q44 60 50 55 Z" fill="url(#basewing)"/>
<path d="M56 55.5 L152 55.5 L156 89 L52 89 Z" fill="url(#basetop)"/>
<ellipse cx="104" cy="76" rx="28" ry="9.6" fill="none" stroke="#a9a89e" stroke-width="2.2"/>
<rect x="98.7" y="40" width="10.6" height="42" fill="#0b0c0e"/>
<path d="M49.5 59 Q54 70 54 83" stroke="#ffe61a" stroke-width="11" fill="none" opacity="0.5" filter="url(#b3)"/>
<path d="M157.5 60 Q154 71 154.5 82" stroke="#ffe61a" stroke-width="11" fill="none" opacity="0.5" filter="url(#b3)"/>
<path d="M49.5 59 Q54 70 54 83" stroke="#ffe61a" stroke-width="4.5" fill="none" stroke-linecap="round"/>
<path d="M157.5 60 Q154 71 154.5 82" stroke="#ffe61a" stroke-width="4.5" fill="none" stroke-linecap="round"/>
<path d="M55 94.5 L97 93 L86 99 L58 98 Z" fill="#ffe61a"/>
<path d="M111.5 93 L154 94.5 L151 98 L122 99 Z" fill="#ffe61a"/>
<path d="M57 96 L95 96 M113 96 L152 96" stroke="#ffe61a" stroke-width="8" opacity="0.5" filter="url(#b3)"/>
<rect x="99.5" y="-2" width="9" height="46" fill="#ffe61a" opacity="0.35" filter="url(#b2)"/>
<rect x="100.5" y="-2" width="7" height="45.5" fill="#9a8a14" stroke="#ffe61a" stroke-width="2"/>
</svg>
<div class="lab" style="color:#f4e213">Yellow</div>
</div>
<div class="ccard" style="left:1126px;top:375px">
<svg width="205" height="131" viewBox="0 0 205 131">
<rect width="205" height="131" fill="url(#cardbg)"/>
<rect x="55" y="109" width="40" height="21" rx="8" fill="#2ef0ee" opacity="0.45" filter="url(#b3)"/>
<rect x="114" y="109" width="40" height="21" rx="8" fill="#2ef0ee" opacity="0.45" filter="url(#b3)"/>
<path d="M40 96 Q104 108 171 96 L170 110 Q104 118 42 110 Z" fill="#07080b" opacity="0.75" filter="url(#b3)"/>
<path d="M50 55 L157 55 Q168 62 171 80 L171 95 L160 100.5 L48 100.5 L40 98 Q38 80 40 72 Q44 60 50 55 Z" fill="#0e0f12"/>
<path d="M50 55 L157 55 Q168 62 171 80 L171 92 L155 90 L54 90 L40 92 Q38 80 40 72 Q44 60 50 55 Z" fill="url(#basewing)"/>
<path d="M56 55.5 L152 55.5 L156 89 L52 89 Z" fill="url(#basetop)"/>
<ellipse cx="104" cy="76" rx="28" ry="9.6" fill="none" stroke="#a9a89e" stroke-width="2.2"/>
<rect x="98.7" y="40" width="10.6" height="42" fill="#0b0c0e"/>
<path d="M49.5 59 Q54 70 54 83" stroke="#2ef0ee" stroke-width="11" fill="none" opacity="0.5" filter="url(#b3)"/>
<path d="M157.5 60 Q154 71 154.5 82" stroke="#2ef0ee" stroke-width="11" fill="none" opacity="0.5" filter="url(#b3)"/>
<path d="M49.5 59 Q54 70 54 83" stroke="#2ef0ee" stroke-width="4.5" fill="none" stroke-linecap="round"/>
<path d="M157.5 60 Q154 71 154.5 82" stroke="#2ef0ee" stroke-width="4.5" fill="none" stroke-linecap="round"/>
<path d="M55 94.5 L97 93 L86 99 L58 98 Z" fill="#2ef0ee"/>
<path d="M111.5 93 L154 94.5 L151 98 L122 99 Z" fill="#2ef0ee"/>
<path d="M57 96 L95 96 M113 96 L152 96" stroke="#2ef0ee" stroke-width="8" opacity="0.5" filter="url(#b3)"/>
<rect x="99.5" y="-2" width="9" height="46" fill="#2ef0ee" opacity="0.35" filter="url(#b2)"/>
<rect x="100.5" y="-2" width="7" height="45.5" fill="#1a9a9a" stroke="#2ef0ee" stroke-width="2"/>
</svg>
<div class="lab" style="color:#26d8ea">Cyan</div>
</div>
</div>
<div id="bot" class="abs">
<div class="bcard" style="left:27px">
<div class="cap">Step 1: As the picture shows, align the<br>threaded side of the top tray with the screw<br>hole of the supporting pole, then tighten the<br>screw.</div>
</div>
<div class="bcard" style="left:378px">
<div class="cap">Step 2: As the picture shows, remove the<br>release paper and stick the silicone<br>decorative sheet on the corresponding<br>area of the top tray.</div>
</div>
<div class="bcard" style="left:730px">
<div class="cap">Step 3: As the picture shows, align the<br>threaded side of the supporting pole with the<br>screw hole in the base, then tighten the screw<br>from the bottom of the base.</div>
</div>
<div class="bcard" style="left:1082px">
<div class="cap">Step 4: Installation completed. According<br>to your needs, plug into the USB port of an<br>available device to use.</div>
</div>
<svg class="abs" style="left:0;top:0" width="1445" height="578" viewBox="0 578 1445 578">
<g fill="none" stroke="#444" stroke-width="1" stroke-linejoin="round" stroke-linecap="round">
<path d="M232.5 882 L232.5 1016 M238 886 L238 1016 M242.9 888 L242.9 1016 M250.5 890 L250.5 1016 M268.5 896 L268.5 1016 M238 886 L242.9 888"/>
<path d="M112 760 C112 752 118 748 125 747 L140 746 C145 746 147 750 146.5 756 L146.5 890 M112 760 L112 890 M116 768 L116 890 M120 770 L120 890 M116 768 L120 770 M112 760 C120 762 126 764 129 766 L129 890 M129 766 C134 760 140 754 146.5 756"/>
<path d="M120 758 C124 752 132 750 138 751 C140 754 138 760 134 762 C128 763 122 762 120 758 Z M128 752 C132 751 136 753 134 757"/>
<g transform="translate(35.7 628.3) scale(0.13 0.1424)" fill="none" stroke="#444" stroke-width="1" vector-effect="non-scaling-stroke">
<path d="M60,350 C40,360 35,420 60,435 C170,440 300,455 400,480 C500,505 560,520 650,560 C750,605 900,680 1060,750 C1075,755 1085,752 1095,745 C1200,670 1280,615 1320,575 C1390,510 1420,460 1400,410 C1395,385 1380,370 1365,360 C1280,290 1210,230 1165,195 C1140,180 1120,185 1100,195 C1060,220 1020,245 990,250 C950,250 880,230 830,210 C800,190 780,110 745,82 C730,70 710,70 690,72 C620,80 550,88 500,100 C475,106 465,120 440,160 C410,210 300,280 180,340 C140,342 90,345 60,350 Z" fill="#fff" vector-effect="non-scaling-stroke"/>
<path d="M180,340 C260,340 300,350 340,380 C380,410 420,430 470,445 C540,465 600,480 680,485 C800,520 950,600 1060,695" vector-effect="non-scaling-stroke"/>
<path d="M450,400 L640,278 C650,272 665,270 680,272 L975,345 C995,352 995,372 980,382 L830,482 C815,492 795,495 775,492 L470,410 Z" vector-effect="non-scaling-stroke"/>
<ellipse cx="745" cy="350" rx="130" ry="105" vector-effect="non-scaling-stroke"/>
<ellipse cx="745" cy="358" rx="108" ry="88" vector-effect="non-scaling-stroke"/>
<ellipse cx="740" cy="380" rx="85" ry="60" fill="#fff" vector-effect="non-scaling-stroke"/>
<path d="M565,528 L690,566" stroke-width="2.2" vector-effect="non-scaling-stroke"/>
</g>
<g transform="translate(155 810) scale(0.13841 0.13841)" fill="none" stroke="#444" stroke-width="1" vector-effect="non-scaling-stroke">
<path d="M60,350 C40,360 35,420 60,435 C170,440 300,455 400,480 C500,505 560,520 650,560 C750,605 900,680 1060,750 C1075,755 1085,752 1095,745 C1200,670 1280,615 1320,575 C1390,510 1420,460 1400,410 C1395,385 1380,370 1365,360 C1280,290 1210,230 1165,195 C1140,180 1120,185 1100,195 C1060,220 1020,245 990,250 C950,250 880,230 830,210 C800,190 780,110 745,82 C730,70 710,70 690,72 C620,80 550,88 500,100 C475,106 465,120 440,160 C410,210 300,280 180,340 C140,342 90,345 60,350 Z" fill="#fff" vector-effect="non-scaling-stroke"/>
<path d="M180,340 C260,340 300,350 340,380 C380,410 420,430 470,445 C540,465 600,480 680,485 C800,520 950,600 1060,695" vector-effect="non-scaling-stroke"/>
<path d="M450,400 L640,278 C650,272 665,270 680,272 L975,345 C995,352 995,372 980,382 L830,482 C815,492 795,495 775,492 L470,410 Z" vector-effect="non-scaling-stroke"/>
<ellipse cx="780" cy="385" rx="100" ry="72" vector-effect="non-scaling-stroke"/>
<ellipse cx="785" cy="380" rx="80" ry="58" vector-effect="non-scaling-stroke"/>
<path d="M665,360 L665,400 C680,430 780,430 795,400 L795,360" fill="#fff" vector-effect="non-scaling-stroke"/>
<ellipse cx="730" cy="360" rx="65" ry="48" fill="#fff" vector-effect="non-scaling-stroke"/>
<path d="M560,520 L690,550" stroke-width="2.2" vector-effect="non-scaling-stroke"/>
</g>
<path d="M461.5 771 L461.5 871 M467 773 L467 871 M471.5 775 L471.5 871 M479 777 L479 871 M496.5 784 L496.5 871 M467 773 L471.5 775"/>
<g transform="translate(384.4 700.6) scale(0.13587 0.13576)" fill="none" stroke="#444" stroke-width="1" vector-effect="non-scaling-stroke">
<path d="M60,350 C40,360 35,420 60,435 C170,440 300,455 400,480 C500,505 560,520 650,560 C750,605 900,680 1060,750 C1075,755 1085,752 1095,745 C1200,670 1280,615 1320,575 C1390,510 1420,460 1400,410 C1395,385 1380,370 1365,360 C1280,290 1210,230 1165,195 C1140,180 1120,185 1100,195 C1060,220 1020,245 990,250 C950,250 880,230 830,210 C800,190 780,110 745,82 C730,70 710,70 690,72 C620,80 550,88 500,100 C475,106 465,120 440,160 C410,210 300,280 180,340 C140,342 90,345 60,350 Z" fill="#fff" vector-effect="non-scaling-stroke"/>
<path d="M180,340 C260,340 300,350 340,380 C380,410 420,430 470,445 C540,465 600,480 680,485 C800,520 950,600 1060,695" vector-effect="non-scaling-stroke"/>
<path d="M450,400 L640,278 C650,272 665,270 680,272 L975,345 C995,352 995,372 980,382 L830,482 C815,492 795,495 775,492 L470,410 Z" vector-effect="non-scaling-stroke"/>
<ellipse cx="780" cy="385" rx="100" ry="72" vector-effect="non-scaling-stroke"/>
<ellipse cx="785" cy="380" rx="80" ry="58" vector-effect="non-scaling-stroke"/>
<path d="M665,360 L665,400 C680,430 780,430 795,400 L795,360" fill="#fff" vector-effect="non-scaling-stroke"/>
<ellipse cx="730" cy="360" rx="65" ry="48" fill="#fff" vector-effect="non-scaling-stroke"/>
<path d="M560,520 L690,550" stroke-width="2.2" vector-effect="non-scaling-stroke"/>
</g>
<path d="M580 922 L580 1016 M585 924 L585 1016 M590 926 L590 1016 M601 929 L601 1016 M618 935 L618 1016 M585 924 L590 926"/>
<g transform="translate(496.9 846.6) scale(0.1464 0.1445)" fill="none" stroke="#444" stroke-width="1" vector-effect="non-scaling-stroke">
<path d="M60,350 C40,360 35,420 60,435 C170,440 300,455 400,480 C500,505 560,520 650,560 C750,605 900,680 1060,750 C1075,755 1085,752 1095,745 C1200,670 1280,615 1320,575 C1390,510 1420,460 1400,410 C1395,385 1380,370 1365,360 C1280,290 1210,230 1165,195 C1140,180 1120,185 1100,195 C1060,220 1020,245 990,250 C950,250 880,230 830,210 C800,190 780,110 745,82 C730,70 710,70 690,72 C620,80 550,88 500,100 C475,106 465,120 440,160 C410,210 300,280 180,340 C140,342 90,345 60,350 Z" fill="#fff" vector-effect="non-scaling-stroke"/>
<path d="M180,340 C260,340 300,350 340,380 C380,410 420,430 470,445 C540,465 600,480 680,485 C800,520 950,600 1060,695" vector-effect="non-scaling-stroke"/>
<path d="M450,400 L640,278 C650,272 665,270 680,272 L975,345 C995,352 995,372 980,382 L830,482 C815,492 795,495 775,492 L470,410 Z" vector-effect="non-scaling-stroke"/>
<path d="M560,400 L680,395 M760,385 L880,395 M735,340 L720,375 M705,420 L690,450" vector-effect="non-scaling-stroke"/>
</g>
<path d="M423 659 L458 638 C461 636.5 464 636 467 636.5 L533 648 C539 649 540 655 537 659 L507 683 C504 685.5 500 686.5 496 686 L424 668 C419 666.5 419 661 423 659 Z" fill="#fff"/>
<path d="M454 655 L472 657 M489 660 L506 664 M483 651 L479 659 M476 663 L471 671"/>
<path d="M452 678 C442 684 432 694 427 705 C436 696 444 690 456 684 C452 688 450 686 452 678 Z M445 679 L462 678"/>
<path d="M837 620 L837 697 C837 699 839 699 841 698.7 L846.6 698.7 C850 698 854 694 854.1 688.5 L854.1 620 M838.8 620 L838.8 678.3 M840.7 620 L840.7 678.3 M842.5 620 L842.5 678.3 M845.7 620 L845.7 678.3 M837 679 L846.6 679"/>
<path d="M856.5 710 L891.5 656 L894.5 657.5 L859.5 711.5"/>
<path d="M802.9 693.1 L905.2 728.5 L915.5 753.6 L875.5 819.7 L854.1 817.8 L746.2 769.4 L743.4 763.8 Z" fill="#fff"/>
<ellipse cx="820.6" cy="760.1" rx="33.5" ry="26"/><ellipse cx="820.6" cy="761" rx="27.9" ry="23.3"/>
<path d="M793.6 704.3 L759.2 754.5" stroke-width="6" stroke="#444"/><path d="M793.6 704.3 L759.2 754.5" stroke-width="4" stroke="#fff"/>
<path d="M900.6 743.4 L864.3 798.3" stroke-width="6" stroke="#444"/><path d="M900.6 743.4 L864.3 798.3" stroke-width="4" stroke="#fff"/>
<path d="M841 724 C840 716 848 713 852 717 C854 721 852 726 848 727 L843 727.5 C841 727 841 726 841 724 Z M844 725 L850 724"/>
<path d="M938.5 800.9 L972.3 819.8 L970.3 827.8 C962 835 955 842 951 850 L949 858 L928.5 863.6 C915 860 908 855 905.6 849.7 C904 842 907 834 912.6 829.8 C917 829 921 827 925.5 821.8 C926 815 926 811 927.5 809.9 C930 805 934 802 938.5 800.9 Z" fill="#fff"/>
<path d="M929.5 830 L943.4 832 L952.4 885.5 L932.5 878.5 Z M931.5 832 L935 879.5 M933.5 831 L936.5 880" fill="#fff"/>
<path d="M896.7 871.6 L913.6 870.6 L998.2 908.4 L1000.1 927.3 L932.5 1006.9 L916.6 1009.9 L845 967.1 L843 949.2 Z" fill="#fff"/>
<path d="M904.6 874.6 L874.8 909.4 L888.7 903.4 Z M870.8 915.3 L847 952.2 L866.8 933.3 Z"/>
<circle cx="914.6" cy="896.4" r="9"/><circle cx="986.2" cy="924.3" r="9"/><circle cx="866.8" cy="960.1" r="9"/><circle cx="926.5" cy="996.9" r="9"/>
<ellipse cx="954.4" cy="961.1" rx="12" ry="10"/><circle cx="954.4" cy="961.1" r="7.5"/><circle cx="954.4" cy="960.5" r="5"/><circle cx="954" cy="960" r="3.5"/>
<path d="M969 963 L1057 1006.5 L1056 1010 L968 967 M966 963 C969 961 972 963 971 966"/>
<path d="M1156.7 722.4 L1154.3 890.8 M1170 722.4 L1165.2 890.8 M1159 722.4 L1157 870 M1161.5 722.4 L1159.5 870 M1164.5 722.4 L1162 870 M1167 722.4 L1163.5 870 M1154.3 877 L1165.2 877"/>
<path d="M1117.9 871.4 L1205.2 888.4 L1216 895.7 L1217.3 909 L1197.9 949 L1088.8 927.2 L1087.6 922.3 Z" fill="#fff"/>
<path d="M1088 922.5 L1198 944 M1089 926 L1197.5 947.5 M1090 924 L1130 931" />
<path d="M1154.3 876 L1154.3 891 L1165.2 893 L1165.2 877"/>
<ellipse cx="1147" cy="910.2" rx="25.4" ry="15.8"/><ellipse cx="1147" cy="910.6" rx="21.8" ry="13.3"/>
<path d="M1114.3 879.9 L1099.7 911.4" stroke-width="4.6"/><path d="M1114.3 879.9 L1099.7 911.4" stroke-width="2.6" stroke="#fff"/>
<path d="M1205.2 898.1 L1185.8 929.6" stroke-width="4.6"/><path d="M1205.2 898.1 L1185.8 929.6" stroke-width="2.6" stroke="#fff"/>
<path d="M1127.6 716.3 C1129 710 1133 703 1137.3 699.4 C1144 697 1150 696 1156.7 695.8 C1160 697 1162 700 1164 703 C1170 704 1176 705 1181 704.2 C1184 702 1186 700 1188.2 699.4 C1194 701 1200 703 1202.7 706.7 C1205 709 1206 711 1205.2 713.9 C1203 720 1200 726 1197.9 729.7 C1195 729 1193 728 1190.6 727.2 C1180 725 1172 723 1164 722.4 C1150 721 1138 720 1127.6 720 C1126 719 1126 717 1127.6 716.3 Z" fill="#fff"/>
<path d="M1152 715.5 L1155 708 C1156 707 1158 706.5 1160 706.5 L1178 707 C1180 707.5 1180.5 709 1180 710.5 L1177.5 716 C1177 717 1176 717.5 1174 717.5 Z M1160 711.5 L1165 711.5 M1168 712 L1173 712 M1167 708.5 L1166 711 M1165.5 713.5 L1164.5 716"/>
<path d="M1165 879 C1190 850 1210 820 1215 795 C1220 760 1235 737 1262 736 L1299 735.2"/>
<path d="M1167 880.5 C1192 852 1212 822 1217 797 C1222 762 1237 739.5 1262 738.5 L1299 737.7"/>
<path d="M1214 810 C1222 800 1232 796 1248 795.5 L1299 795.5" stroke-dasharray="5 2.5"/>
<path d="M1215 812.5 C1224 802.5 1234 798 1248 798 L1299 798" stroke-dasharray="5 2.5"/>
<path d="M1171 876 C1180 866 1192 862.5 1210 862 L1299 862" stroke-dasharray="5 2.5"/>
<path d="M1172 878.5 C1182 868.5 1194 865 1210 864.5 L1299 864.5" stroke-dasharray="5 2.5"/>
<path d="M1298.5 734.9 L1301 734.9 L1304.5 731.4 L1320.5 731.4 L1320.5 741.4 L1304.5 741.4 L1301 737.9 L1298.5 737.9" fill="#fff"/>
<path d="M1320.5 732.4 L1327 732.4 L1327 740.4 L1320.5 740.4" fill="#fff"/>
<rect x="1313" y="733.6" width="3.6" height="5.6"/><rect x="1322" y="734.1999999999999" width="3" height="1.8"/><rect x="1322" y="737.0" width="3" height="1.8"/>
<path d="M1298.5 795.2 L1301 795.2 L1304.5 791.7 L1320.5 791.7 L1320.5 801.7 L1304.5 801.7 L1301 798.2 L1298.5 798.2" fill="#fff"/>
<path d="M1320.5 792.7 L1327 792.7 L1327 800.7 L1320.5 800.7" fill="#fff"/>
<rect x="1313" y="793.9000000000001" width="3.6" height="5.6"/><rect x="1322" y="794.5" width="3" height="1.8"/><rect x="1322" y="797.3000000000001" width="3" height="1.8"/>
<path d="M1298.5 861.7 L1301 861.7 L1304.5 858.2 L1320.5 858.2 L1320.5 868.2 L1304.5 868.2 L1301 864.7 L1298.5 864.7" fill="#fff"/>
<path d="M1320.5 859.2 L1327 859.2 L1327 867.2 L1320.5 867.2" fill="#fff"/>
<rect x="1313" y="860.4000000000001" width="3.6" height="5.6"/><rect x="1322" y="861.0" width="3" height="1.8"/><rect x="1322" y="863.8000000000001" width="3" height="1.8"/>
<rect x="1381" y="688.6" width="28.4" height="62.2" rx="1.5"/><path d="M1386.1 697 L1404.2 697 L1404.2 699.3 L1386.1 699.3 Z"/><circle cx="1394.7" cy="711.4" r="2.3"/><circle cx="1395.1" cy="722.3" r="0.9"/>
<rect x="1342.3" y="707.6" width="46.3" height="32.9" rx="1.5" fill="#fff"/><rect x="1344.2" y="709.5" width="42.5" height="29" rx="0.8"/>
<path d="M1364.2 740.5 L1364.2 747.6 M1367.1 740.5 L1367.1 747.6"/><rect x="1353.8" y="747.6" width="23.8" height="3.2" rx="1"/>
<rect x="1354.7" y="776.7" width="41.9" height="29" rx="1.5"/><rect x="1357.5" y="779.4" width="36.7" height="24.8" rx="0.8"/><rect x="1350.9" y="806" width="49.9" height="3.9" rx="1"/>
<rect x="1362.3" y="850.4" width="26.7" height="31.8" rx="1.5"/><rect x="1368.4" y="866.6" width="15.2" height="9.1" rx="2"/>
<path d="M1369 850.4 L1369 839.8 L1371.8 839.8 L1371.8 850.4 M1379.5 850.4 L1379.5 839.8 L1382.3 839.8 L1382.3 850.4"/>
</g>
<linearGradient id="ar1" x1="213.4" y1="726.2" x2="250.5" y2="786" gradientUnits="userSpaceOnUse"><stop offset="0" stop-color="#5ab8ef" stop-opacity="0"/><stop offset="0.5" stop-color="#5ab8ef" stop-opacity="0.8"/><stop offset="1" stop-color="#4cb0ee"/></linearGradient>
<path d="M213.4 726.2 Q246 745 250.5 786" stroke="url(#ar1)" stroke-width="6.5" fill="none"/>
<path d="M240 787.3 L260.7 785.1 L252.3 802.5 Z" fill="#4cb0ee"/>
<linearGradient id="ar2" x1="597.9" y1="764.4" x2="633.5" y2="822" gradientUnits="userSpaceOnUse"><stop offset="0" stop-color="#5ab8ef" stop-opacity="0"/><stop offset="0.5" stop-color="#5ab8ef" stop-opacity="0.8"/><stop offset="1" stop-color="#4cb0ee"/></linearGradient>
<path d="M597.9 764.4 Q630 782 633.5 822" stroke="url(#ar2)" stroke-width="6.5" fill="none"/>
<path d="M623.4 822.5 L643.4 820.7 L636.1 840.7 Z" fill="#4cb0ee"/>
<linearGradient id="ar3" x1="939" y1="719" x2="974.5" y2="778" gradientUnits="userSpaceOnUse"><stop offset="0" stop-color="#5ab8ef" stop-opacity="0"/><stop offset="0.5" stop-color="#5ab8ef" stop-opacity="0.8"/><stop offset="1" stop-color="#4cb0ee"/></linearGradient>
<path d="M939 719 Q970 738 974.5 778" stroke="url(#ar3)" stroke-width="6.5" fill="none"/>
<path d="M964.5 778.9 L984.5 777.1 L977.2 795.3 Z" fill="#4cb0ee"/>
</svg>
</div>
</body></html>
